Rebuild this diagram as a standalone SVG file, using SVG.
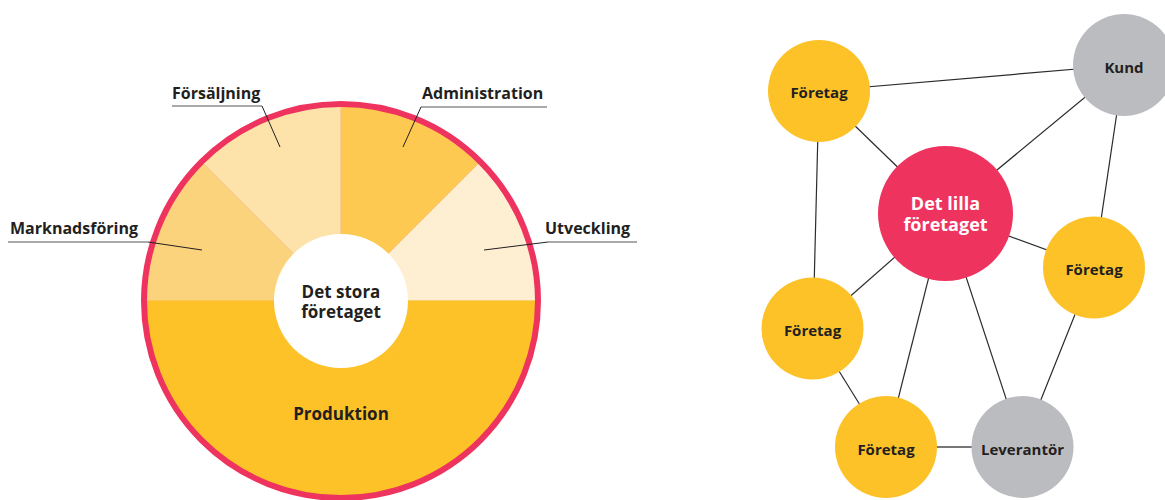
<svg xmlns="http://www.w3.org/2000/svg" width="1165" height="500" viewBox="0 0 1165 500">
<style>
.t{font-family:"Open Sans","Liberation Sans",sans-serif;font-weight:700;fill:#231f20;}
.lbl{font-size:16px;}
.ctr{font-size:17px;text-anchor:middle;}
.nt{font-size:15px;text-anchor:middle;}
.seg{stroke:#f7c08c;stroke-width:0.8;}
.lead{stroke:#231f20;stroke-width:1;fill:none;}
.ul{stroke:#555;stroke-width:1;fill:none;}
.edge{stroke:#2b2b2b;stroke-width:1.2;}
.y{fill:#fdc228;}
.g{fill:#bbbcc0;}
</style>
<rect width="1165" height="500" fill="#fff"/>
<g id="pie">
  <path d="M341,301 L144,301 A197,197 0 0 0 538,301 Z" fill="#fdc228"/>
  <path class="seg" d="M341,301 L144,301 A197,197 0 0 1 201.7,161.7 Z" fill="#fcd37d"/>
  <path class="seg" d="M341,301 L201.7,161.7 A197,197 0 0 1 341,104 Z" fill="#fde3a9"/>
  <path class="seg" d="M341,301 L341,104 A197,197 0 0 1 480.3,161.7 Z" fill="#fdc950"/>
  <path class="seg" d="M341,301 L480.3,161.7 A197,197 0 0 1 538,301 Z" fill="#feefd3"/>
  <rect x="143" y="300.5" width="396" height="2" fill="#fdc228"/>
  <circle cx="341" cy="301" r="197" fill="none" stroke="#ee335f" stroke-width="6"/>
  <circle cx="341" cy="301" r="67" fill="#fff"/>
  <text class="t ctr" x="341" y="298">Det stora</text>
  <text class="t ctr" x="341" y="318">företaget</text>
  <text class="t ctr" x="341" y="420">Produktion</text>
</g>
<g id="label-marknadsforing">
  <polyline class="ul" points="8,242 148,242"/>
  <line class="lead" x1="148" y1="242" x2="202" y2="250"/>
  <text class="t lbl" x="10" y="234">Marknadsföring</text>
</g>
<g id="label-forsaljning">
  <polyline class="ul" points="172,106 262,106"/>
  <line class="lead" x1="262" y1="106" x2="280" y2="147"/>
  <text class="t lbl" x="172" y="99">Försäljning</text>
</g>
<g id="label-administration">
  <polyline class="ul" points="421,107 547,107"/>
  <line class="lead" x1="421" y1="107" x2="403" y2="147"/>
  <text class="t lbl" x="422" y="99">Administration</text>
</g>
<g id="label-utveckling">
  <polyline class="ul" points="548,242 637,242"/>
  <line class="lead" x1="548" y1="242" x2="484" y2="250"/>
  <text class="t lbl" x="545" y="234">Utveckling</text>
</g>
<g id="connectors">
  <line class="edge" x1="819" y1="91" x2="1124" y2="65"/>
  <line class="edge" x1="819" y1="91" x2="945" y2="213"/>
  <line class="edge" x1="819" y1="91" x2="813" y2="329"/>
  <line class="edge" x1="1124" y1="65" x2="945" y2="213"/>
  <line class="edge" x1="1124" y1="65" x2="1094" y2="267"/>
  <line class="edge" x1="945" y1="213" x2="1094" y2="267"/>
  <line class="edge" x1="945" y1="213" x2="813" y2="329"/>
  <line class="edge" x1="945" y1="213" x2="886" y2="447"/>
  <line class="edge" x1="945" y1="213" x2="1022" y2="447"/>
  <line class="edge" x1="1094" y1="267" x2="1022" y2="447"/>
  <line class="edge" x1="813" y1="329" x2="886" y2="447"/>
  <line x1="886" y1="447" x2="1022" y2="447" stroke="#777" stroke-width="2"/>
</g>
<g id="node-foretag-1"><circle class="y" cx="819" cy="91" r="51"/><text class="t nt" x="819" y="98">Företag</text></g>
<g id="node-kund"><circle class="g" cx="1124" cy="65" r="51"/><text class="t nt" x="1124" y="73">Kund</text></g>
<g id="node-det-lilla"><circle cx="945.5" cy="213.5" r="67.5" fill="#ee335f"/>
  <text class="t ctr" x="945.5" y="210" style="fill:#fff;font-size:18px">Det lilla</text>
  <text class="t ctr" x="945.5" y="231" style="fill:#fff;font-size:18px">företaget</text></g>
<g id="node-foretag-2"><circle class="y" cx="1094" cy="267.5" r="51"/><text class="t nt" x="1094" y="275">Företag</text></g>
<g id="node-foretag-3"><circle class="y" cx="812.5" cy="328.5" r="51"/><text class="t nt" x="812.5" y="336">Företag</text></g>
<g id="node-foretag-4"><circle class="y" cx="886" cy="447" r="51"/><text class="t nt" x="886" y="455">Företag</text></g>
<g id="node-leverantor"><circle class="g" cx="1022.5" cy="447" r="51"/><text class="t nt" x="1022.5" y="455">Leverantör</text></g>
</svg>
